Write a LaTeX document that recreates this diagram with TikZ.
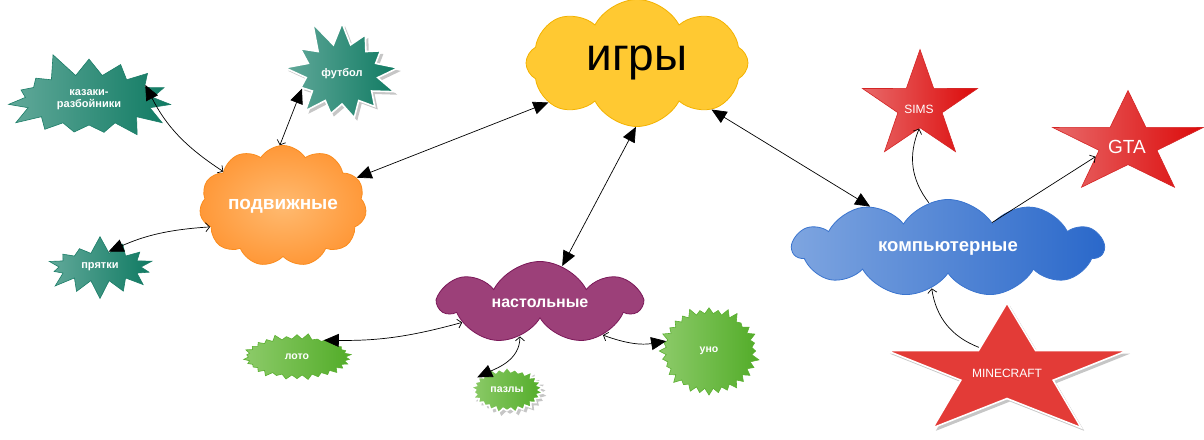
\documentclass[tikz,border=0pt]{standalone}
\usepackage{fontspec}
\setmainfont{Liberation Sans}
\usetikzlibrary{shapes.symbols,shapes.geometric,shadows,arrows.meta}
\definecolor{igryfill}{RGB}{255,201,50}
\definecolor{igryline}{RGB}{243,178,0}
\definecolor{podvlight}{RGB}{255,186,112}
\definecolor{podvdark}{RGB}{255,152,56}
\definecolor{podvline}{RGB}{250,140,30}
\definecolor{nastfill}{RGB}{156,64,121}
\definecolor{nastline}{RGB}{122,24,88}
\definecolor{complight}{RGB}{126,165,224}
\definecolor{compdark}{RGB}{42,104,202}
\definecolor{compline}{RGB}{58,116,206}
\definecolor{teallight}{RGB}{98,169,154}
\definecolor{tealdark}{RGB}{15,122,98}
\definecolor{tealline}{RGB}{28,125,104}
\definecolor{greenlight}{RGB}{141,203,106}
\definecolor{greendark}{RGB}{82,172,40}
\definecolor{greenline}{RGB}{90,175,48}
\definecolor{redlight}{RGB}{232,105,105}
\definecolor{reddark}{RGB}{220,10,10}
\definecolor{redline}{RGB}{212,37,37}
\definecolor{redflat}{RGB}{227,59,55}
\tikzset{
    cloudnode/.style={cloud, cloud ignores aspect, inner sep=0pt, line width=0.8pt, text=white},
    tealburst/.style={starburst, inner sep=0pt, line width=0.6pt, draw=tealline, left color=teallight, right color=tealdark, text=white, align=center, font=\bfseries\fontsize{11}{12}\selectfont},
    greenburst/.style={starburst, starburst points=30, starburst point height=6pt, inner sep=0pt, line width=0.6pt, draw=greenline, left color=greenlight, right color=greendark, text=white, font=\bfseries\fontsize{10.5}{12}\selectfont},
    outlined/.style={draw=white, line width=1.6pt, drop shadow={shadow xshift=3pt, shadow yshift=-3pt, opacity=0.45}},
    redstar/.style={star, star points=5, star point ratio=2.6, inner sep=0pt, line width=0.6pt, transform shape},
    redshade/.style={draw=redline, left color=redlight, right color=reddark},
    startext/.style={text=white},
    bigboth/.style={line width=0.7pt, {Triangle[length=15pt,width=13pt]}-{Triangle[length=15pt,width=13pt]}},
    bigopen/.style={line width=0.7pt, {Triangle[length=15pt,width=13pt]}-{Straight Barb[length=4pt,width=9pt]}},
    openend/.style={line width=0.7pt, -{Straight Barb[length=4pt,width=9pt]}}
}
\begin{document}
\begin{tikzpicture}[x=1pt,y=1pt]
    \useasboundingbox (0,0) rectangle (1204,439);
    \node[cloudnode, cloud puffs=8, cloud puff arc=125, minimum width=222pt, minimum height=127pt, fill=igryfill, draw=igryline, text=black, font=\fontsize{46}{50}\selectfont] (igry) at (637,376) {игры};
    \node[cloudnode, cloud puffs=11, cloud puff arc=115, minimum width=167pt, minimum height=121pt, inner color=podvlight, outer color=podvdark, draw=podvline, font=\bfseries\fontsize{19}{22}\selectfont] (podv) at (283,233) {подвижные};
    \node[cloudnode, cloud puffs=7, cloud puff arc=125, minimum width=200pt, minimum height=83pt, fill=nastfill, draw=nastline, font=\bfseries\fontsize{16}{18}\selectfont] (nast) at (540,136) {настольные};
    \node[cloudnode, cloud puffs=11, cloud puff arc=115, minimum width=311pt, minimum height=97pt, left color=complight, right color=compdark, draw=compline, font=\bfseries\fontsize{18.5}{20}\selectfont] (comp) at (948,191) {компьютерные};

    \node[tealburst, starburst points=15, starburst point height=26pt, random starburst=5, minimum width=180pt, minimum height=102pt] (kazaki) at (89,339) {казаки-\\разбойники};
    \node[tealburst, outlined, starburst points=13, starburst point height=28pt, random starburst=11, minimum width=128pt, minimum height=116pt] (futbol) at (342,365) {футбол};
    \node[tealburst, starburst points=14, starburst point height=18pt, random starburst=7, minimum width=118pt, minimum height=64pt] (pryatki) at (100,172) {прятки};

    \node[greenburst, minimum width=109pt, minimum height=48pt] (loto) at (297,82) {лото};
    \node[greenburst, outlined, starburst points=26, minimum width=75pt, minimum height=49pt] (pazly) at (507,49) {пазлы};
    \node[greenburst, starburst points=32, starburst point height=8pt, minimum width=102pt, minimum height=91pt] (uno) at (709,88) {уно};

    \node[redstar, redshade, minimum size=113pt, xscale=1.07] (sims) at (920,333) {};
    \node[redstar, redshade, minimum size=107pt, xscale=1.48] (gta) at (1128,295) {};
    \node[redstar, outlined, fill=redflat, minimum size=138pt, xscale=1.83] (minecraft) at (1007,67) {};
    \node[startext, font=\fontsize{12}{14}\selectfont] (simstext) at (919,330) {SIMS};
    \node[startext, font=\fontsize{19}{22}\selectfont] (gtatext) at (1127,292) {GTA};
    \node[startext, font=\fontsize{12}{14}\selectfont] (minecrafttext) at (1007,66) {MINECRAFT};

    \draw[bigboth] (igry.204) -- (podv.21);
    \draw[bigboth] (igry.-91) -- (nast.59);
    \draw[bigboth] (comp.152) -- (igry.-32);
    \draw[bigopen] (kazaki.15) to[bend right=15] (podv.150);
    \draw[bigopen] (futbol.200) -- (podv.93);
    \draw[bigopen] (pryatki.61) to[bend left=10] (podv.196);
    \draw[bigopen] (loto.32) to[bend right=8] (nast.194);
    \draw[bigopen] (pazly.157) to[out=25,in=-90] (nast.239);
    \draw[bigopen] (uno.167) to[bend left=15] (nast.-27);
    \draw[openend] (comp.113) to[bend left=30] (sims.-92);
    \draw[openend] (comp.30) -- (gta.210);
    \draw[openend] (minecraft.122) to[bend left=30] (comp.248);
\end{tikzpicture}
\end{document}
